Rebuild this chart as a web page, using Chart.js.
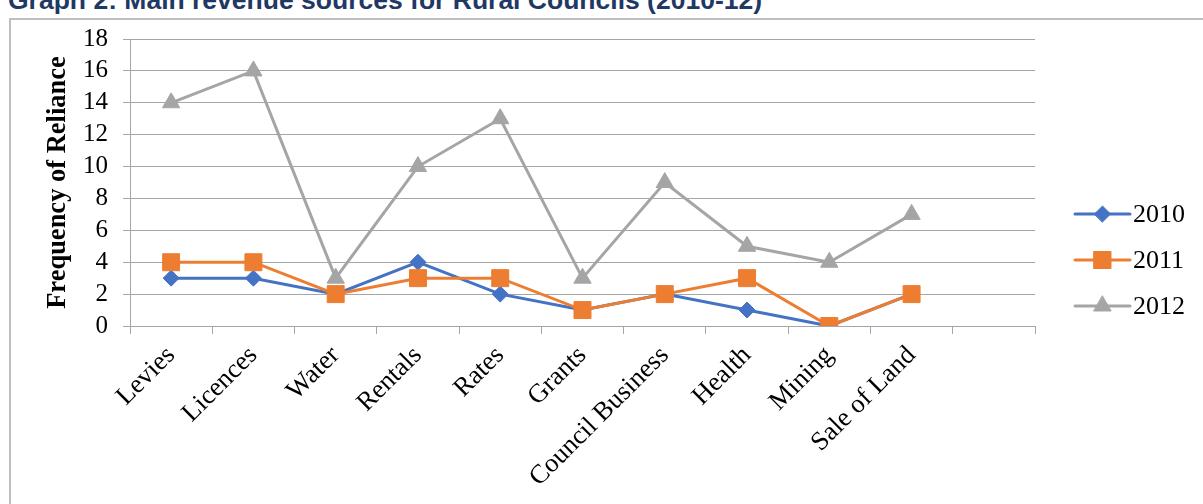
<!DOCTYPE html>
<html><head><meta charset="utf-8">
<script src="https://cdn.jsdelivr.net/npm/chart.js@4.4.1/dist/chart.umd.min.js"></script>
<style>
html,body{margin:0;padding:0;background:#fff;overflow:hidden;}
#wrap{position:relative;width:1203px;height:504px;overflow:hidden;}
#title{position:absolute;left:8px;top:-13px;font:bold 26.5px "Liberation Sans",Arial,sans-serif;color:#1F3864;line-height:26px;white-space:nowrap;}
#frame{position:absolute;left:9px;top:18px;width:1300px;height:600px;border-top:2px solid #BFBFBF;border-left:2px solid #BFBFBF;pointer-events:none;}
canvas{position:absolute;left:0;top:0;}
</style></head><body>
<div id="wrap">
<div id="title">Graph 2: Main revenue sources for Rural Councils (2010-12)</div>
<div id="frame"></div>
<canvas id="c" width="1203" height="504"></canvas>
</div>
<script>
const categories = ["Levies","Licences","Water","Rentals","Rates","Grants","Council Business","Health","Mining","Sale of Land",""];
const seriesNames = ["2010","2011","2012"];
const values2010 = [3,3,2,4,2,1,2,1,0,2,null];
const values2011 = [4,4,2,3,3,1,2,3,0,2,null];
const values2012 = [14,16,3,10,13,3,9,5,4,7,null];
const yMin = 0, yMax = 18, yStep = 2;

const gridColor = '#A6A6A6';
const serif = '"Liberation Serif","Times New Roman",serif';

const legendPlugin = {
  id: 'sideLegend',
  afterDraw(chart) {
    const ctx = chart.ctx;
    const x0 = 1075, x1 = 1130, ys = [214, 260, 306];
    chart.data.datasets.forEach((ds, i) => {
      const y = ys[i];
      ctx.save();
      ctx.strokeStyle = ds.borderColor;
      ctx.lineWidth = 3;
      ctx.lineCap = 'round';
      ctx.beginPath(); ctx.moveTo(x0, y); ctx.lineTo(x1, y); ctx.stroke();
      ctx.fillStyle = ds.pointBackgroundColor;
      ctx.strokeStyle = ds.pointBorderColor;
      ctx.lineWidth = 1;
      Chart.helpers.drawPoint(ctx, {pointStyle: ds.pointStyle, radius: ds.pointRadius, borderWidth: 1, rotation: 0}, (x0 + x1) / 2, y);
      ctx.fillStyle = '#000';
      ctx.font = '26px ' + serif;
      ctx.textBaseline = 'middle';
      ctx.textAlign = 'left';
      ctx.fillText(ds.label, 1133, y + 1);
      ctx.restore();
    });
  }
};

function mk(label, data, color, style, r, order) {
  return {label, data, borderColor: color, backgroundColor: color, pointBackgroundColor: color,
    pointBorderColor: color, pointStyle: style, pointRadius: r, pointHoverRadius: r,
    pointBorderWidth: 1, borderWidth: 3, tension: 0, order, spanGaps: false};
}

new Chart(document.getElementById('c'), {
  type: 'line',
  data: {
    labels: categories,
    datasets: [
      mk(seriesNames[0], values2010, '#4472C4', 'rectRot', 8, 2),
      mk(seriesNames[1], values2011, '#ED7D31', 'rect', 12, 1),
      mk(seriesNames[2], values2012, '#A5A5A5', 'triangle', 10, 0)
    ]
  },
  options: {
    responsive: false, animation: false, devicePixelRatio: 1,
    layout: {padding: {top: 39, right: 168, bottom: 0, left: 0}},
    plugins: {legend: {display: false}, title: {display: false}, tooltip: {enabled: false}},
    scales: {
      x: {
        type: 'category', offset: true,
        grid: {display: true, drawOnChartArea: false, offset: true, tickLength: 8, color: gridColor, lineWidth: 1},
        border: {color: gridColor, width: 1},
        ticks: {font: {family: serif, size: 26.5}, color: '#000', minRotation: 45, maxRotation: 45, autoSkip: false, padding: 6},
        afterFit(s) { s.height = 178; }
      },
      y: {
        min: yMin, max: yMax,
        ticks: {stepSize: yStep, autoSkip: false, font: {family: serif, size: 25}, color: '#000', padding: 15},
        grid: {color: gridColor, lineWidth: 1, tickLength: 7},
        border: {color: gridColor, width: 1},
        title: {display: true, text: 'Frequency of Reliance', color: '#000', font: {family: serif, size: 26.5, weight: 'bold'}, padding: {top: 42, bottom: 0}},
        afterFit(s) { s.width = 130; }
      }
    }
  },
  plugins: [legendPlugin]
});
</script>
</body></html>
